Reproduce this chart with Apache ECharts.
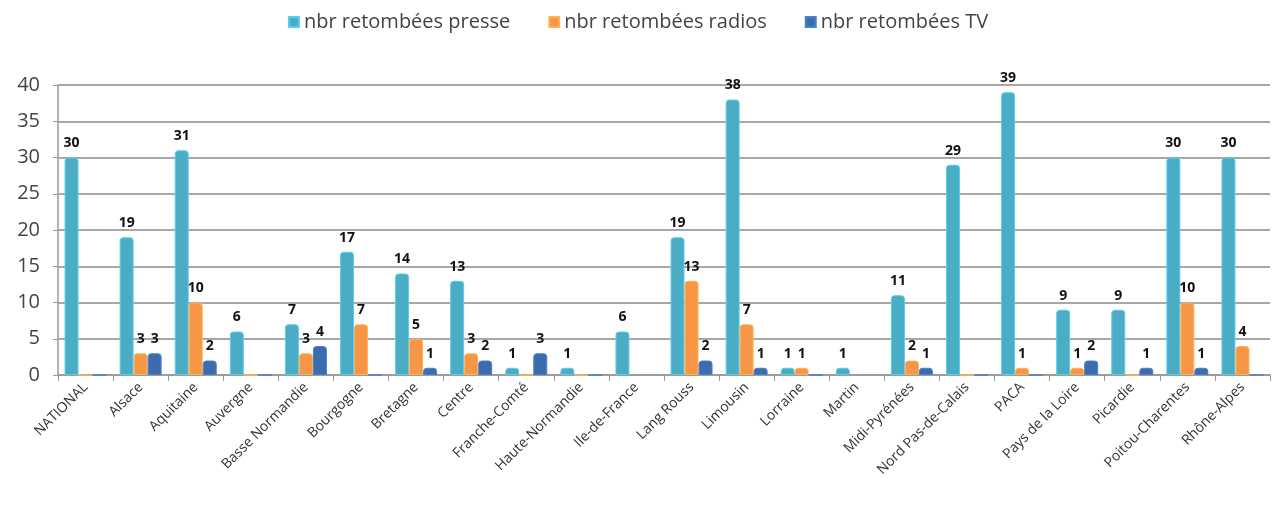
<!DOCTYPE html>
<html>
<head>
<meta charset="utf-8">
<script src="https://cdn.jsdelivr.net/npm/echarts@6/dist/echarts.min.js"></script>
<style>html,body{margin:0;padding:0;background:#fff}#c{width:1276px;height:511px}</style>
</head>
<body>
<div id="c"></div>
<script>
const categories = ["NATIONAL","Alsace","Aquitaine","Auvergne","Basse Normandie","Bourgogne","Bretagne","Centre","Franche-Comté","Haute-Normandie","Ile-de-France","Lang Rouss","Limousin","Lorraine","Martin","Midi-Pyrénées","Nord Pas-de-Calais","PACA","Pays de la Loire","Picardie","Poitou-Charentes","Rhône-Alpes"];
const presse = [30,19,31,6,7,17,14,13,1,1,6,19,38,1,1,11,29,39,9,9,30,30];
const radios = [0,3,10,0,3,7,5,3,0,0,null,13,7,1,null,2,0,1,1,0,10,4];
const tv = [0,3,2,0,4,0,1,2,3,0,null,2,1,0,null,1,0,0,2,1,1,0];
const seriesNames = ["nbr retombées presse","nbr retombées radios","nbr retombées TV"];
const yTicks = [0,5,10,15,20,25,30,35,40];

const colors = ["#4bacc6","#f79646","#3d6cae"];
const chart = echarts.init(document.getElementById('c'));
const label = {
  show: true, position: 'top', distance: 7,
  fontSize: 14, fontWeight: 'bold', color: '#111', fontFamily: 'Open Sans',
  formatter: p => (p.value ? String(p.value) : '')
};
function mk(name, data, i) {
  return {
    name, type: 'bar', data, barWidth: 14, barGap: '0%',
    itemStyle: { color: colors[i], borderColor: echarts.color.lift(colors[i], -0.2), borderWidth: 1, borderRadius: [3,3,0,0] },
    label, z: 3
  };
}
chart.setOption({
  animation: false,
  textStyle: { fontFamily: 'Open Sans' },
  legend: {
    top: 7, left: 'center', itemWidth: 10, itemHeight: 10, itemGap: 38,
    icon: 'rect',
    textStyle: { fontSize: 20, color: '#444', fontFamily: 'Open Sans' },
    data: seriesNames
  },
  grid: { left: 58, right: 6, top: 85, bottom: 136 },
  xAxis: {
    type: 'category', data: categories,
    axisLine: { lineStyle: { color: '#999', width: 1.5 } },
    axisTick: { show: true, lineStyle: { color: '#999' }, length: 6 },
    axisLabel: { rotate: 45, fontSize: 14, color: '#333', margin: 10, interval: 0 }
  },
  yAxis: {
    type: 'value', min: 0, max: 40, interval: 5,
    axisLine: { show: true, lineStyle: { color: '#999', width: 1.5 } },
    axisTick: { show: true, lineStyle: { color: '#999' } },
    axisLabel: { fontSize: 20, color: '#444', margin: 18, formatter: v => yTicks.includes(v) ? String(v) : '' },
    splitLine: { lineStyle: { color: '#8a8a8a', width: 1.5 } }
  },
  series: [mk(seriesNames[0], presse, 0), mk(seriesNames[1], radios, 1), mk(seriesNames[2], tv, 2)]
});
</script>
</body>
</html>
